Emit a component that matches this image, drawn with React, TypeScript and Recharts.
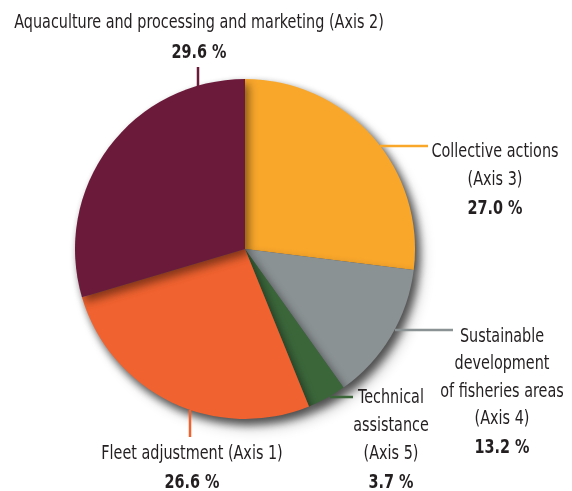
import { PieChart, Pie, Cell } from "recharts";

// EMFF allocation by axis, clockwise from 12 o'clock
const categories = [
  "Collective actions (Axis 3)",
  "Sustainable development of fisheries areas (Axis 4)",
  "Technical assistance (Axis 5)",
  "Fleet adjustment (Axis 1)",
  "Aquaculture and processing and marketing (Axis 2)",
];
const shares = [27.0, 13.2, 3.7, 26.6, 29.6];
const labelRows = [
  ["Collective actions", "(Axis 3)"],
  ["Sustainable", "development", "of fisheries areas", "(Axis 4)"],
  ["Technical", "assistance", "(Axis 5)"],
  ["Fleet adjustment (Axis 1)"],
  ["Aquaculture and processing and marketing (Axis 2)"],
];
const percentLabels = ["27.0 %", "13.2 %", "3.7 %", "26.6 %", "29.6 %"];
const colors = ["#f9a72b", "#8b9294", "#3b663a", "#f0622f", "#6c1a3a"];

const data = categories.map((name, i) => ({ name, value: shares[i] }));

const CX = 245;
const CY = 249;

// label placement relative to pie centre
const layout = [
  { line: [135, -103, 183, -103], x: 250, y: -92, gap: 28 },
  { line: [150, 81, 208, 81], x: 257, y: 93, gap: 27.5 },
  { line: [85, 148, 108, 148], x: 146, y: 154, gap: 28 },
  { line: [-55, 161, -55, 188], x: -53, y: 210, gap: 28 },
  { line: [-47, -161, -47, -182], x: -46, y: -221, gap: 29 },
];

const FONT = "'Liberation Sans Narrow', 'DejaVu Sans Condensed', sans-serif";
const SQUEEZE = 0.8;

function Labels() {
  return (
    <svg
      width={572}
      height={491}
      style={{ position: "absolute", left: 0, top: 0, pointerEvents: "none" }}
    >
      {layout.map((l, index) => {
        const rows = labelRows[index];
        const [x1, y1, x2, y2] = l.line;
        return (
          <g key={index}>
            <line
              x1={CX + x1}
              y1={CY + y1}
              x2={CX + x2}
              y2={CY + y2}
              stroke={colors[index]}
              strokeWidth={2.5}
            />
            <g transform={`translate(${CX + l.x},${CY + l.y}) scale(${SQUEEZE},1)`}>
              {rows.map((r, k) => (
                <text
                  key={k}
                  x={0}
                  y={k * l.gap}
                  textAnchor="middle"
                  fontFamily={FONT}
                  fontSize={20}
                  fill="#231f20"
                >
                  {r}
                </text>
              ))}
              <text
                x={0}
                y={rows.length * l.gap + 1}
                textAnchor="middle"
                fontFamily={FONT}
                fontSize={20}
                fontWeight="bold"
                fill="#231f20"
              >
                {percentLabels[index]}
              </text>
            </g>
          </g>
        );
      })}
    </svg>
  );
}

export default function App() {
  return (
    <div style={{ width: 572, height: 491, background: "#fff", position: "relative" }}>
      <style>{`body{margin:0}.main-pie,.recharts-pie{filter:drop-shadow(4px 5px 4px rgba(0,0,0,0.45))}`}</style>
      <PieChart width={572} height={491} margin={{ top: 0, right: 0, bottom: 0, left: 0 }}>
        <Pie
          className="main-pie"
          data={data}
          dataKey="value"
          nameKey="name"
          cx={CX}
          cy={CY}
          outerRadius={170}
          startAngle={90}
          endAngle={-270}
          stroke="none"
          labelLine={false}
          isAnimationActive={false}
        >
          {data.map((d, i) => (
            <Cell key={d.name} fill={colors[i]} />
          ))}
        </Pie>
      </PieChart>
      <Labels />
    </div>
  );
}
